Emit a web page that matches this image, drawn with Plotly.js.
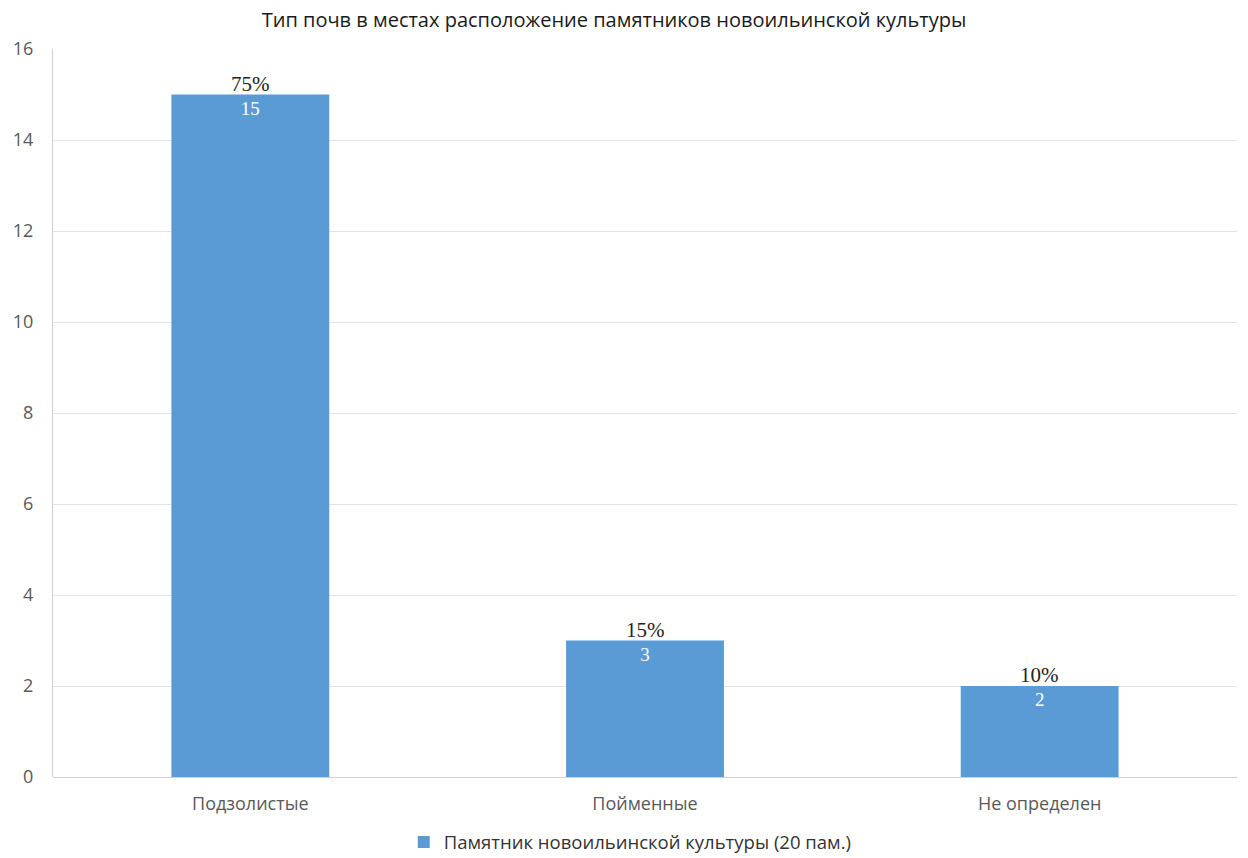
<!DOCTYPE html>
<html>
<head>
<meta charset="utf-8">
<script src="https://cdn.plot.ly/plotly-3.0.1.min.js"></script>
<style>html,body{margin:0;padding:0;background:#fff;}#chart{width:1248px;height:858px;}</style>
</head>
<body>
<div id="chart"></div>
<script>
const categories = ["Подзолистые", "Пойменные", "Не определен"];
const counts = [15, 3, 2];
const percentLabels = ["75%", "15%", "10%"];
const seriesName = "Памятник новоильинской культуры (20 пам.)";
const chartTitle = "Тип почв в местах расположение памятников новоильинской культуры";

const trace = {
  type: "bar",
  x: categories,
  y: counts,
  name: seriesName,
  marker: {color: "#5b9bd5"},
  text: counts.map(String),
  textposition: "inside",
  insidetextanchor: "end",
  textfont: {family: "Liberation Serif, serif", size: 19, color: "#ffffff"},
  cliponaxis: false,
  hoverinfo: "skip"
};

const annotations = categories.map((c, i) => ({
  x: c, y: counts[i], xref: "x", yref: "y",
  text: percentLabels[i], showarrow: false,
  yanchor: "bottom", yshift: -3,
  font: {family: "Liberation Serif, serif", size: 21, color: "#222222"}
}));

const layout = {
  width: 1248, height: 858,
  paper_bgcolor: "#ffffff", plot_bgcolor: "#ffffff",
  margin: {l: 53, r: 11, t: 49, b: 81},
  title: {text: chartTitle, x: 0.492, xanchor: "center", y: 0.977, yanchor: "middle",
          font: {family: "Open Sans, sans-serif", size: 20, color: "#1a1a1a"}},
  bargap: 0.6,
  showlegend: true,
  legend: {orientation: "h", xref: "container", yref: "container",
           x: 0.505, xanchor: "center", y: 0.018, yanchor: "middle",
           itemwidth: 30,
           font: {family: "Open Sans, sans-serif", size: 18.5, color: "#333333"}},
  xaxis: {range: [-0.5, 2.5], showgrid: false, zeroline: false, showline: false,
          ticks: "", tickfont: {family: "Open Sans, sans-serif", size: 18, color: "#595959"},
          ticklabelstandoff: 14, automargin: false},
  yaxis: {range: [0, 16], dtick: 2, showgrid: true, gridcolor: "#e3e3e3", gridwidth: 1,
          zeroline: true, zerolinecolor: "#d0d0d0", zerolinewidth: 1,
          showline: true, linecolor: "#cfcfcf", linewidth: 1,
          ticks: "", tickfont: {family: "Open Sans, sans-serif", size: 18, color: "#595959"},
          ticklabelstandoff: 15, automargin: false},
  annotations: annotations
};

Plotly.newPlot("chart", [trace], layout, {displayModeBar: false, staticPlot: true});
</script>
</body>
</html>
